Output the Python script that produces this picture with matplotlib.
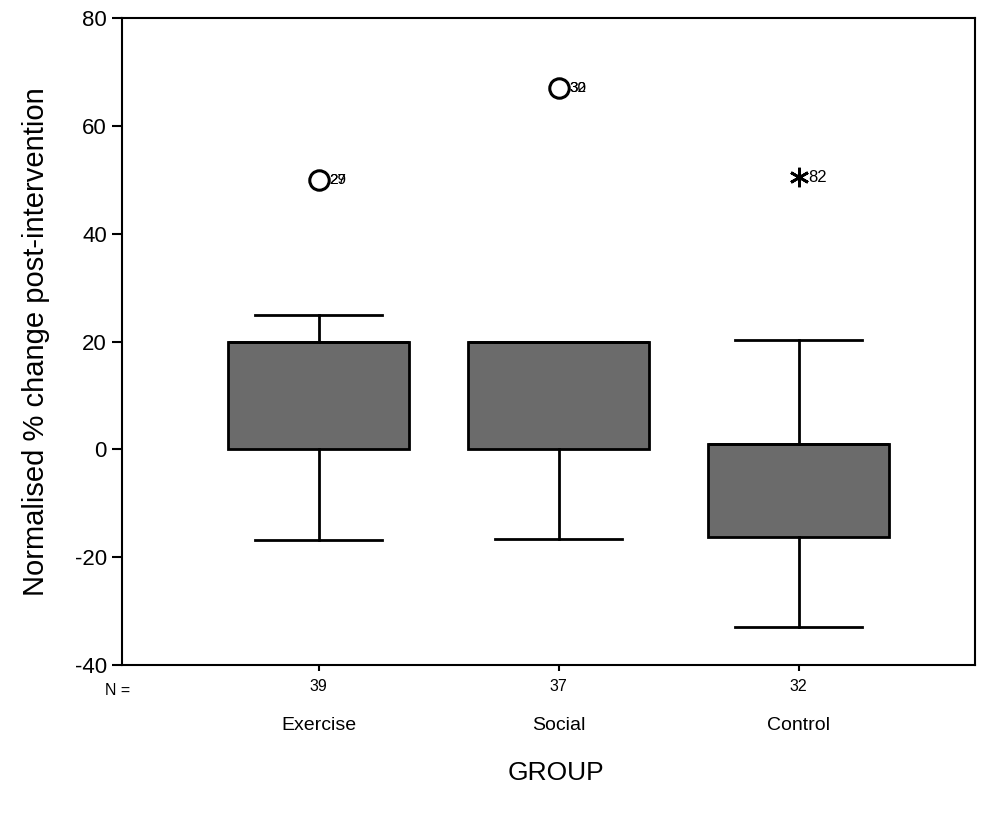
import matplotlib.pyplot as plt

plt.rcParams['font.family'] = ['Liberation Sans', 'DejaVu Sans']
plt.rcParams['axes.unicode_minus'] = False

# box plot summary
groups = ['Exercise', 'Social', 'Control']
counts = ['39', '37', '32']
q1 = [0, 0, -16.2]
q3 = [20, 20, 1]
med = [20, 20, 1]
whislo = [-16.8, -16.6, -33]
whishi = [25, 20, 20.2]
outlier_vals = [50, 67, 50.5]
outlier_labels = [['29', '27'], ['30', '32'], ['82']]
outlier_kind = ['o', 'o', '*']

stats = []
for i, g in enumerate(groups):
    stats.append(dict(label=g, med=med[i], q1=q1[i], q3=q3[i],
                      whislo=whislo[i], whishi=whishi[i], fliers=[]))

fig = plt.figure(figsize=(9.97, 8.17), dpi=100)
ax = fig.add_axes([0.1224, 0.186, 0.8555, 0.792])

pos = [1, 2, 3]
ax.bxp(stats, positions=pos, widths=0.754, patch_artist=True, showfliers=False,
       boxprops=dict(facecolor='#6b6b6b', edgecolor='black', linewidth=2),
       whiskerprops=dict(color='black', linewidth=2),
       capprops=dict(color='black', linewidth=2),
       medianprops=dict(color='black', linewidth=2),
       capwidths=0.53)

for p, v, labs, kind in zip(pos, outlier_vals, outlier_labels, outlier_kind):
    if kind == 'o':
        ax.plot(p, v, 'o', ms=14, mfc='white', mec='black', mew=2.2, zorder=5)
        for lab in labs:
            ax.annotate(lab, (p, v), xytext=(8, 0), textcoords='offset points',
                        va='center', ha='left', fontsize=11)
    else:
        ax.plot(p, v, marker=(6, 2, 0), ms=14, color='black', mew=2, zorder=5)
        ax.annotate(labs[0], (p, v), xytext=(7, 0), textcoords='offset points',
                    va='center', ha='left', fontsize=12)

ax.set_xlim(0.181, 3.735)
ax.set_ylim(-40, 80)
ax.set_yticks([-40, -20, 0, 20, 40, 60, 80])
ax.tick_params(axis='y', direction='out', length=7, width=1.5, labelsize=16, pad=4)
ax.set_xticks(pos)
ax.set_xticklabels(counts)
ax.tick_params(axis='x', direction='out', length=4, width=1.5, labelsize=11.5, pad=6)
for s in ax.spines.values():
    s.set_linewidth(1.5)

for p, g in zip(pos, groups):
    ax.text(p, -0.08, g, transform=ax.get_xaxis_transform(), ha='center', va='top', fontsize=14)
ax.text(-0.005, -0.027, 'N =', transform=ax.transAxes, ha='center', va='top', fontsize=11.5)

ax.set_ylabel('Normalised % change post-intervention', fontsize=21, labelpad=0)
ax.yaxis.set_label_coords(-0.085, 0.5)
fig.text(0.558, 0.054, 'GROUP', ha='center', va='center', fontsize=19)

fig.savefig('out.png', dpi=100)
